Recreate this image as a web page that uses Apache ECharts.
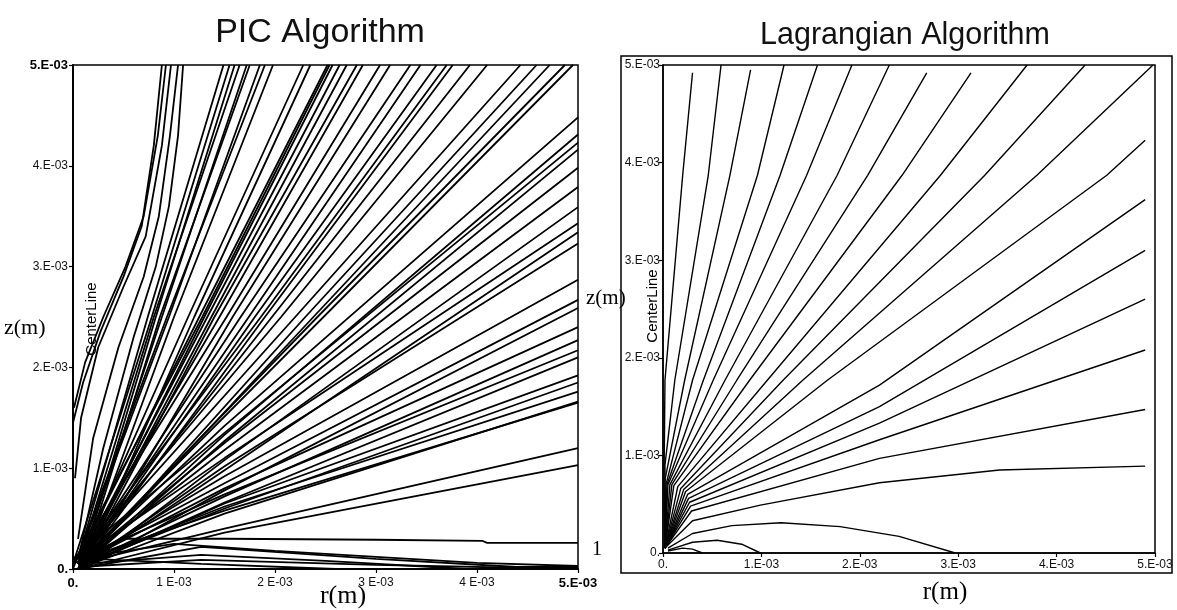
<!DOCTYPE html>
<html><head><meta charset="utf-8">
<script src="https://cdn.jsdelivr.net/npm/echarts@6/dist/echarts.min.js"></script>
<style>html,body{margin:0;padding:0;background:#fff}#c{width:1177px;height:610px}</style>
</head><body><div id="c"></div>
<script>
// All coordinates are in units of 1e-3 m (r, z)
const picXLabels = ['0.', '1 E-03', '2 E-03', '3 E-03', '4 E-03', '5.E-03'];
const picYLabels = ['0.', '1.E-03', '2.E-03', '3.E-03', '4.E-03', '5.E-03'];
const lagXLabels = ['0.', '1.E-03', '2.E-03', '3.E-03', '4.E-03', '5.E-03'];
const lagYLabels = ['0.', '1.E-03', '2.E-03', '3.E-03', '4.E-03', '5.E-03'];

// PIC: curved trajectories near the centre line
const picCurved = [
  [[0.0,1.45],[0.1,1.85],[0.27,2.35],[0.5,2.9],[0.68,3.4],[0.80,4.2],[0.88,5.0]],
  [[0.01,1.6],[0.12,2.05],[0.3,2.5],[0.52,3.0],[0.7,3.5],[0.84,4.3],[0.92,5.0]],
  [[0.02,0.9],[0.08,1.5],[0.25,2.2],[0.5,2.8],[0.72,3.3],[0.88,4.2],[0.97,5.0]],
  [[0.05,0.3],[0.2,1.3],[0.45,2.2],[0.7,2.9],[0.85,3.5],[0.96,4.3],[1.04,5.0]],
  [[0.05,0.1],[0.3,1.2],[0.6,2.3],[0.82,3.0],[0.95,3.6],[1.04,4.3],[1.09,5.0]]
];
// PIC: trajectories leaving through the top edge
const picTop = [
  [[0.05,0.1],[0.74,2.5],[1.49,5.0]],
  [[0.0,0.05],[0.78,2.5],[1.55,5.0]],
  [[0.1,0.1],[0.82,2.5],[1.60,5.0]],
  [[0.05,0.05],[0.80,2.5],[1.65,5.0]],
  [[0.05,0.0],[0.88,2.5],[1.72,5.0]],
  [[0.1,0.05],[0.86,2.5],[1.75,5.0]],
  [[0.05,0.1],[0.95,2.5],[1.85,5.0]],
  [[0.0,0.0],[0.93,2.5],[1.90,5.0]],
  [[0.1,0.05],[1.00,2.5],[1.98,5.0]],
  [[0.05,0.05],[1.14,2.5],[2.28,5.0]],
  [[0.1,0.0],[1.20,2.5],[2.35,5.0]],
  [[0.05,0.1],[1.25,2.5],[2.52,5.0]],
  [[0.0,0.05],[1.28,2.5],[2.54,5.0]],
  [[0.1,0.1],[1.30,2.5],[2.57,5.0]],
  [[0.05,0.05],[1.33,2.5],[2.64,5.0]],
  [[0.05,0.0],[1.37,2.5],[2.71,5.0]],
  [[0.1,0.05],[1.40,2.5],[2.81,5.0]],
  [[0.05,0.1],[1.45,2.5],[2.87,5.0]],
  [[0.0,0.05],[1.52,2.5],[3.04,5.0]],
  [[0.1,0.0],[1.58,2.5],[3.14,5.0]],
  [[0.05,0.05],[1.66,2.5],[3.34,5.0]],
  [[0.1,0.1],[1.74,2.5],[3.44,5.0]],
  [[0.05,0.0],[1.80,2.5],[3.60,5.0]],
  [[0.05,0.1],[1.86,2.5],[3.70,5.0]],
  [[0.1,0.05],[1.90,2.5],[3.76,5.0]],
  [[0.05,0.05],[1.97,2.5],[3.93,5.0]],
  [[0.0,0.05],[2.06,2.5],[4.10,5.0]],
  [[0.05,0.1],[2.20,2.5],[4.43,5.0]],
  [[0.1,0.05],[2.30,2.5],[4.59,5.0]],
  [[0.05,0.0],[2.38,2.5],[4.72,5.0]],
  [[0.1,0.1],[2.42,2.5],[4.87,5.0]],
  [[0.05,0.05],[2.48,2.5],[4.95,5.0]]
];
// PIC: trajectories leaving through the right edge
const picRight = [
  [[0.05,0.05],[1.5,1.42],[5.0,4.48]],
  [[0.1,0.05],[1.5,1.33],[5.0,4.31]],
  [[0.0,0.1],[1.5,1.35],[5.0,4.23]],
  [[0.05,0.0],[1.5,1.27],[5.0,4.16]],
  [[0.1,0.1],[1.5,1.25],[5.0,3.98]],
  [[0.05,0.05],[1.5,1.18],[5.0,3.79]],
  [[0.15,0.05],[1.5,1.08],[5.0,3.59]],
  [[0.2,0.2],[1.5,1.10],[5.0,3.43]],
  [[0.05,0.0],[1.5,0.98],[5.0,3.34]],
  [[0.1,0.05],[1.5,1.02],[5.0,3.23]],
  [[0.05,0.05],[1.5,0.92],[5.0,2.87]],
  [[0.0,0.05],[1.5,0.85],[5.0,2.67]],
  [[0.1,0.0],[1.5,0.78],[5.0,2.59]],
  [[0.05,0.05],[1.5,0.80],[5.0,2.40]],
  [[0.1,0.05],[1.5,0.72],[5.0,2.27]],
  [[0.05,0.1],[1.5,0.74],[5.0,2.17]],
  [[0.15,0.05],[1.5,0.66],[5.0,2.10]],
  [[0.05,0.0],[1.5,0.65],[5.0,1.92]],
  [[0.1,0.05],[1.5,0.60],[5.0,1.85]],
  [[0.05,0.05],[1.5,0.62],[5.0,1.76]],
  [[0.05,0.0],[1.5,0.55],[5.0,1.66]],
  [[0.1,0.1],[1.5,0.58],[5.0,1.65]],
  [[0.05,0.05],[1.5,0.40],[5.0,1.20]],
  [[0.05,0.0],[1.5,0.36],[5.0,1.03]]
];
// PIC: low trajectories near the axis r
const picBottom = [
  [[0.05,0.05],[0.5,0.3],[1.5,0.3],[3.0,0.29],[4.05,0.28],[4.1,0.26],[5.0,0.26]],
  [[0.05,0.0],[1.27,0.22],[3.0,0.1],[4.4,0.02],[5.0,0.02]],
  [[0.1,0.05],[1.27,0.14],[2.5,0.08],[3.9,0.0]],
  [[0.05,0.02],[1.27,0.09],[3.0,0.04],[5.0,0.0]],
  [[0.2,0.1],[1.27,0.05],[2.6,0.0]],
  [[0.0,0.1],[1.0,0.25],[2.0,0.18],[4.0,0.06],[5.0,0.03]]
];

// Lagrangian: fan lines leaving through the top edge
const lagFan = [
  [[0.02,0.05],[0.01,0.7],[0.02,1.77],[0.20,3.87],[0.30,4.92]],
  [[0.02,0.05],[0.02,0.9],[0.12,1.77],[0.46,3.87],[0.59,5.0]],
  [[0.02,0.05],[0.02,0.75],[0.22,1.77],[0.68,3.87],[0.89,4.95]],
  [[0.02,0.05],[0.03,0.7],[0.30,1.77],[0.96,3.87],[1.23,5.0]],
  [[0.02,0.05],[0.04,0.7],[0.41,1.77],[1.19,3.87],[1.57,5.0]],
  [[0.02,0.05],[0.05,0.7],[0.51,1.77],[1.46,3.87],[1.92,5.0]],
  [[0.02,0.05],[0.07,0.7],[0.63,1.77],[1.77,3.87],[2.30,5.0]],
  [[0.02,0.05],[0.09,0.7],[0.75,1.77],[2.08,3.87],[2.68,4.92]],
  [[0.02,0.05],[0.11,0.69],[0.88,1.77],[2.43,3.87],[3.13,4.92]],
  [[0.02,0.05],[0.15,0.68],[1.06,1.77],[2.82,3.87],[3.70,5.0]],
  [[0.02,0.05],[0.18,0.66],[1.22,1.77],[3.27,3.87],[4.29,5.0]],
  [[0.02,0.05],[0.21,0.65],[1.42,1.77],[3.80,3.87],[4.98,5.0]],
  [[0.02,0.05],[0.23,0.63],[1.67,1.77],[4.51,3.87],[4.90,4.23]]
];
// Lagrangian: lines ending on the right edge
const lagRight = [
  [[0.02,0.05],[0.25,0.6],[2.2,1.72],[4.9,3.62]],
  [[0.02,0.05],[0.26,0.56],[2.2,1.50],[4.9,3.10]],
  [[0.02,0.05],[0.27,0.52],[2.2,1.33],[4.9,2.60]],
  [[0.02,0.05],[0.28,0.48],[2.2,1.16],[4.9,2.08]],
  [[0.02,0.05],[0.29,0.43],[2.2,0.97],[4.9,1.47]],
  [[0.02,0.05],[0.3,0.33],[0.99,0.49],[2.2,0.72],[3.42,0.85],[4.9,0.89]]
];
// Lagrangian: lines returning to the axis r
const lagDomes = [
  [[0.05,0.05],[0.3,0.2],[0.7,0.28],[1.2,0.31],[1.8,0.27],[2.4,0.17],[2.97,0.0]],
  [[0.05,0.03],[0.3,0.11],[0.55,0.13],[0.8,0.09],[0.99,0.0]],
  [[0.05,0.02],[0.2,0.05],[0.3,0.04],[0.4,0.0]]
];

const chart = echarts.init(document.getElementById('c'), null, {renderer: 'canvas'});
const FONT = '"Liberation Sans", Arial, sans-serif';
const SERIF = '"Liberation Serif", "Times New Roman", serif';

function lbl(labels, boldEnds) {
  return {
    fontFamily: FONT, fontSize: 12, color: '#111',
    formatter: v => {
      const i = Math.round(v);
      const t = labels[i];
      return (boldEnds && (i === 0 || i === 5)) ? '{b|' + t + '}' : t;
    },
    rich: {b: {fontWeight: 'bold', fontFamily: FONT, fontSize: 13, color: '#000'}}
  };
}
function axis(labels, boldEnds, margin, lw) {
  return {
    type: 'value', min: 0, max: 5, interval: 1,
    splitLine: {show: false},
    axisLine: {show: true, onZero: false, lineStyle: {color: '#000', width: lw}},
    axisTick: {show: true, length: 4, lineStyle: {color: '#000', width: 1.2}},
    axisLabel: Object.assign(lbl(labels, boldEnds), {margin: margin})
  };
}

const series = [];
function addLines(lines, idx, w) {
  lines.forEach(pts => series.push({
    type: 'line', xAxisIndex: idx, yAxisIndex: idx, data: pts,
    showSymbol: false, symbol: 'none', silent: true, animation: false,
    lineStyle: {color: '#000', width: w}
  }));
}
addLines(picCurved, 0, 1.8);
addLines(picTop, 0, 1.8);
addLines(picRight, 0, 1.8);
addLines(picBottom, 0, 1.8);
addLines(lagFan, 1, 1.4);
addLines(lagRight, 1, 1.4);
addLines(lagDomes, 1, 1.4);

chart.setOption({
  backgroundColor: '#fff',
  animation: false,
  title: [
    {text: 'PIC Algorithm', left: 315, top: 11, textAlign: 'center',
     textStyle: {fontFamily: FONT, fontSize: 34, fontWeight: 'normal', color: '#111'}},
    {text: 'Lagrangian Algorithm', left: 900, top: 15, textAlign: 'center',
     textStyle: {fontFamily: FONT, fontSize: 30.5, fontWeight: 'normal', color: '#111'}}
  ],
  grid: [
    {left: 73, top: 65, width: 505, height: 504, show: true, borderColor: '#000', borderWidth: 1.5, backgroundColor: 'transparent'},
    {left: 663, top: 65, width: 492, height: 488, show: true, borderColor: '#000', borderWidth: 1.5, backgroundColor: 'transparent'}
  ],
  xAxis: [
    Object.assign(axis(picXLabels, true, 8, 2), {gridIndex: 0}),
    Object.assign(axis(lagXLabels, false, 6, 1.5), {gridIndex: 1})
  ],
  yAxis: [
    Object.assign(axis(picYLabels, true, 5, 2), {gridIndex: 0}),
    Object.assign(axis(lagYLabels, false, 3, 1.5), {gridIndex: 1})
  ],
  graphic: [
    {type: 'rect', shape: {x: 621, y: 56, width: 551, height: 517}, style: {fill: 'none', stroke: '#000', lineWidth: 1.5}, silent: true},
    {type: 'text', x: 4, y: 328, style: {text: 'z(m)', font: '22px ' + SERIF, fill: '#000', textAlign: 'left', textVerticalAlign: 'middle'}},
    {type: 'text', x: 343, y: 596, style: {text: 'r(m)', font: '26px ' + SERIF, fill: '#000', textAlign: 'center', textVerticalAlign: 'middle'}},
    {type: 'text', x: 586, y: 298, style: {text: 'z(m)', font: '21px ' + SERIF, fill: '#000', textAlign: 'left', textVerticalAlign: 'middle'}},
    {type: 'text', x: 945, y: 592, style: {text: 'r(m)', font: '25px ' + SERIF, fill: '#000', textAlign: 'center', textVerticalAlign: 'middle'}},
    {type: 'text', x: 92, y: 319, rotation: Math.PI / 2, style: {text: 'CenterLine', font: '15px ' + FONT, fill: '#000', textAlign: 'center', textVerticalAlign: 'middle'}},
    {type: 'text', x: 653, y: 306, rotation: Math.PI / 2, style: {text: 'CenterLine', font: '15px ' + FONT, fill: '#000', textAlign: 'center', textVerticalAlign: 'middle'}},
    {type: 'text', x: 597, y: 550, style: {text: '1', font: '20px ' + SERIF, fill: '#000', textAlign: 'center', textVerticalAlign: 'middle'}}
  ],
  series: series
});
</script>
</body></html>
